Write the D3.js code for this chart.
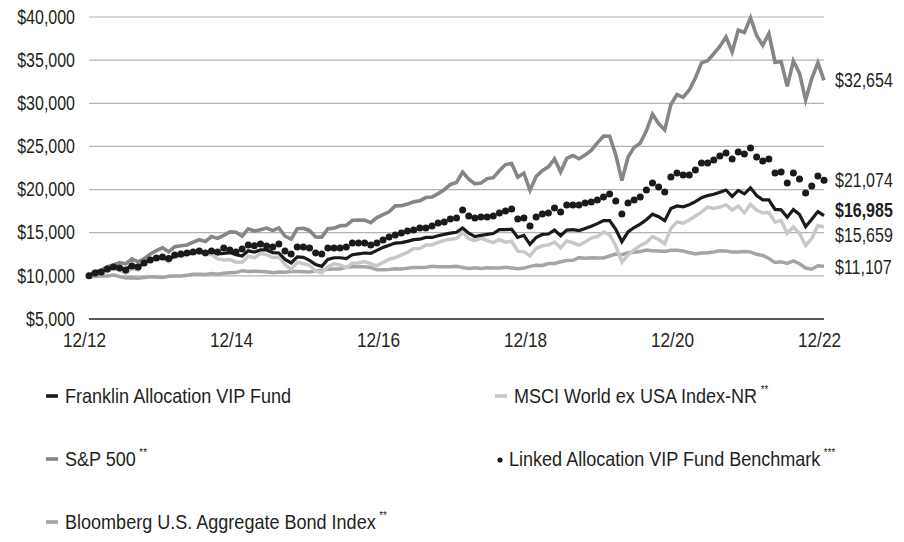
<!DOCTYPE html>
<html>
<head>
<meta charset="utf-8">
<script src="https://cdn.jsdelivr.net/npm/d3@7"></script>
<style>
  body { margin: 0; background: #fff; }
  svg text { font-family: "Liberation Sans", Arial, sans-serif; fill: #231f20; }
</style>
</head>
<body>
<div id="graph"></div>
<script>
// growth of $10,000, monthly, 12/2012 .. 12/2022
var franklin = [10000,
  10450,10550,10750,11050,11000,10750,11250,11050,11500,11900,12050,12200,
  11900,12350,12450,12500,12750,12900,12650,12900,12550,12600,12700,12450,
  12300,12900,12750,13000,13000,12700,12650,11900,11500,12200,12150,11800,
  11300,11100,11900,12100,12100,12000,12450,12550,12650,12600,12950,13300,
  13550,13800,13850,14000,14200,14250,14450,14450,14650,14800,14950,15050,
  15550,14950,14550,14700,14800,14900,15350,15350,15400,14450,14700,13650,
  14450,14800,14850,15300,14650,15300,15350,15250,15500,15750,16050,16400,
  16400,15400,13950,15100,15600,16000,16500,17150,16850,16400,17800,18100,
  18000,18250,18600,19050,19300,19450,19700,19950,19200,19900,19500,20200,
  19300,18800,18800,17700,17650,16800,17700,17100,15700,16550,17450,16985];

var sp500 = [10000,
  10518,10661,11061,11274,11538,11383,11963,11616,11981,12532,12914,13241,
  12783,13367,13479,13579,13898,14186,13990,14550,14346,14696,15091,15053,
  14601,15441,15197,15343,15541,15239,15559,14621,14260,15464,15510,15265,
  14508,14489,15471,15531,15811,15852,16437,16460,16463,16163,16761,17093,
  17418,18109,18131,18318,18576,18691,19076,19135,19529,19984,20598,20827,
  22020,21208,20669,20748,21248,21380,22175,22898,23028,21453,21891,19914,
  21509,22199,22630,23546,22051,23606,23946,23568,24009,24530,25420,26188,
  26178,24023,21056,23755,24886,25381,26813,28741,27649,26913,29860,31007,
  30694,31541,32923,34681,34924,35738,36589,37701,35948,38468,38203,39915,
  37851,36719,38081,34761,34824,31951,34897,33473,30390,32852,34688,32654];

var bloomberg = [10000,
  9930,9980,9988,10089,9909,9755,9769,9719,9811,9891,9854,9798,
  9943,9996,9979,10063,10178,10183,10158,10270,10200,10300,10373,10382,
  10600,10500,10548,10510,10485,10371,10444,10429,10500,10502,10475,10441,
  10585,10660,10758,10799,10802,10996,11065,11053,11046,10962,10702,10717,
  10738,10810,10805,10888,10972,10961,11008,11107,11054,11061,11047,11098,
  10970,10866,10936,10855,10932,10919,10921,10991,10921,10835,10900,11100,
  11218,11211,11426,11429,11633,11780,11806,12112,12048,12084,12078,12070,
  12302,12523,12449,12671,12731,12811,13002,12897,12891,12833,12959,12977,
  12884,12698,12539,12638,12680,12769,12912,12887,12775,12771,12809,12776,
  12501,12361,12017,11562,11636,11453,11732,11400,10907,10765,11161,11107];

var msci = [10000,
  10490,10385,10468,10939,10666,10282,10858,10663,11441,11830,11913,12104,
  11620,12259,12234,12418,12604,12730,12501,12476,11977,11833,11892,11583,
  11583,12278,12094,12578,12477,12128,12189,11299,10768,11576,11402,11231,
  10557,10367,11072,11382,11268,10930,11466,11500,11650,11417,11166,11540,
  11932,12111,12438,12724,13157,13170,13565,13579,13878,14114,14255,14341,
  15029,14293,14093,14361,14074,13849,14181,13897,14008,12859,12808,12321,
  13183,13486,13567,13920,13252,14047,13836,13559,13912,14385,14558,15092,
  14745,13492,11603,12415,13011,13505,13856,14549,14214,13717,15500,16244,
  16098,16484,16929,17386,17977,17815,17975,18245,17625,18083,17305,18291,
  17633,17280,17349,16221,16416,14939,15686,14902,13516,14327,15831,15659];

var benchmark = [10000,
  10330,10450,10800,11030,10910,10680,11140,11030,11490,11840,12070,12190,
  12000,12420,12530,12650,12770,12880,12650,12880,12770,13230,13000,12770,
  13100,13580,13500,13700,13450,13350,13700,12880,12530,13350,13350,13230,
  12650,12530,13230,13230,13230,13350,13810,13810,13810,13580,13810,14150,
  14500,14730,14970,15200,15320,15550,15550,15780,16130,16240,16590,16710,
  17630,16940,16710,16820,16820,16940,17290,17520,17750,16590,16710,15780,
  16820,17170,17290,17870,17400,18220,18220,18220,18450,18560,18790,19140,
  19490,18670,17170,18450,18790,19140,19950,20760,20300,19720,21460,21920,
  21700,21700,22270,23080,23080,23430,23890,24240,23540,24350,24120,24820,
  23770,23310,23540,21920,22040,20760,21920,21230,19610,20410,21570,21074];

var yTicks = [5000, 10000, 15000, 20000, 25000, 30000, 35000, 40000];
var xTickLabels = ["12/12", "12/14", "12/16", "12/18", "12/20", "12/22"];

var series = [
  { name: "Bloomberg U.S. Aggregate Bond Index", values: bloomberg, color: "#a5a5a5", width: 3.5 },
  { name: "MSCI World ex USA Index-NR", values: msci, color: "#c8c8c8", width: 3.5 },
  { name: "S&P 500", values: sp500, color: "#868686", width: 3.6 },
  { name: "Franklin Allocation VIP Fund", values: franklin, color: "#1a1a1a", width: 3.2 }
];

var legendItems = [
  { label: "Franklin Allocation VIP Fund", sup: "", type: "line", color: "#1a1a1a", col: 0, row: 0 },
  { label: "MSCI World ex USA Index-NR", sup: "**", type: "line", color: "#c8c8c8", col: 1, row: 0 },
  { label: "S&P 500", sup: "**", type: "line", color: "#868686", col: 0, row: 1 },
  { label: "Linked Allocation VIP Fund Benchmark", sup: "***", type: "dot", color: "#1a1a1a", col: 1, row: 1 },
  { label: "Bloomberg U.S. Aggregate Bond Index", sup: "**", type: "line", color: "#a5a5a5", col: 0, row: 2 }
];

var endLabels = [
  { text: "$32,654", value: 32654, bold: false },
  { text: "$21,074", value: 21074, bold: false },
  { text: "$16,985", value: 16985, bold: true },
  { text: "$15,659", value: 15659, bold: false },
  { text: "$11,107", value: 11107, bold: false }
];
// label y nudges so they don't collide
var endLabelShift = [0, 0, -5, 8, 1];

var width = 904, height = 542;
var svg = d3.select("#graph").append("svg")
    .attr("width", width)
    .attr("height", height);

// the reference uses a narrow face; squeeze the regular one
var squeeze = 0.82;

var n = franklin.length;
var x = d3.scaleLinear().domain([0, n - 1]).range([89, 824]);
var y = d3.scaleLinear().domain([5000, 40000]).range([319, 17]);

// grid
svg.append("g")
    .selectAll("line")
    .data(yTicks.filter(function(d) { return d > 5000; }))
    .enter().append("line")
    .attr("x1", x(0)).attr("x2", x(n - 1))
    .attr("y1", function(d) { return y(d); })
    .attr("y2", function(d) { return y(d); })
    .attr("stroke", "#b3b3b3")
    .attr("stroke-width", 1.2);

// bottom axis line at $5,000
svg.append("line")
    .attr("x1", x(0)).attr("x2", x(n - 1))
    .attr("y1", y(5000)).attr("y2", y(5000))
    .attr("stroke", "#231f20")
    .attr("stroke-width", 1.5);

// y labels
var fmt = d3.format("$,");
var yAxis = svg.append("g")
    .attr("transform", "translate(75,0)")
    .call(d3.axisLeft(y).tickValues(yTicks).tickFormat(fmt).tickSize(0).tickPadding(0));
yAxis.select(".domain").remove();
yAxis.selectAll("text")
    .attr("font-size", 19.5)
    .attr("fill", "#231f20")
    .attr("transform", "scale(" + squeeze + ",1)")
    .style("font-family", null);

// x labels
var xAxis = svg.append("g")
    .attr("transform", "translate(-5," + (y(5000) + 21) + ")")
    .call(d3.axisBottom(x)
        .tickValues(d3.range(0, n, 24))
        .tickFormat(function(d, i) { return xTickLabels[i]; })
        .tickSize(0).tickPadding(0));
xAxis.select(".domain").remove();
xAxis.selectAll("text")
    .attr("font-size", 20)
    .attr("y", 0)
    .attr("dy", "0.35em")
    .attr("fill", "#231f20")
    .attr("transform", "scale(0.86,1)")
    .style("font-family", null);

// lines
var line = d3.line()
    .x(function(d, i) { return x(i); })
    .y(function(d) { return y(d); });

svg.append("g")
    .selectAll("path")
    .data(series)
    .enter().append("path")
    .attr("d", function(d) { return line(d.values); })
    .attr("fill", "none")
    .attr("stroke", function(d) { return d.color; })
    .attr("stroke-width", function(d) { return d.width; })
    .attr("stroke-linejoin", "miter");

// benchmark dots
svg.append("g")
    .selectAll("circle")
    .data(benchmark)
    .enter().append("circle")
    .attr("cx", function(d, i) { return x(i); })
    .attr("cy", function(d) { return y(d); })
    .attr("r", 3.5)
    .attr("fill", "#1a1a1a");

// end labels
svg.append("g")
    .selectAll("text")
    .data(endLabels)
    .enter().append("text")
    .attr("transform", function(d, i) {
        return "translate(835," + (y(d.value) + endLabelShift[i]) + ") scale(" + squeeze + ",1)";
    })
    .attr("dy", "0.35em")
    .attr("font-size", 19.5)
    .attr("font-weight", function(d) { return d.bold ? "bold" : "normal"; })
    .text(function(d) { return d.text; });

// legend
var legend = svg.append("g")
    .selectAll("g")
    .data(legendItems)
    .enter().append("g")
    .attr("transform", function(d) { return "translate(" + (d.col ? 495 : 46) + "," + (396 + d.row * 63) + ")"; });

legend.filter(function(d) { return d.type == "line"; })
    .append("rect")
    .attr("x", 0).attr("y", -1.8)
    .attr("width", 12).attr("height", 3.6)
    .attr("fill", function(d) { return d.color; });

legend.filter(function(d) { return d.type == "dot"; })
    .append("circle")
    .attr("cx", 5).attr("cy", 1)
    .attr("r", 2.6)
    .attr("fill", function(d) { return d.color; });

var lt = legend.append("g")
    .attr("transform", function(d) { return "translate(" + (d.type == "dot" ? 14 : 19) + ",0) scale(0.88,1)"; })
    .append("text")
    .attr("dy", "0.35em")
    .attr("font-size", 20.5);
lt.append("tspan").text(function(d) { return d.label; });
lt.append("tspan")
    .attr("dx", 4)
    .attr("dy", -10)
    .attr("font-size", 11)
    .text(function(d) { return d.sup; });
</script>
</body>
</html>
